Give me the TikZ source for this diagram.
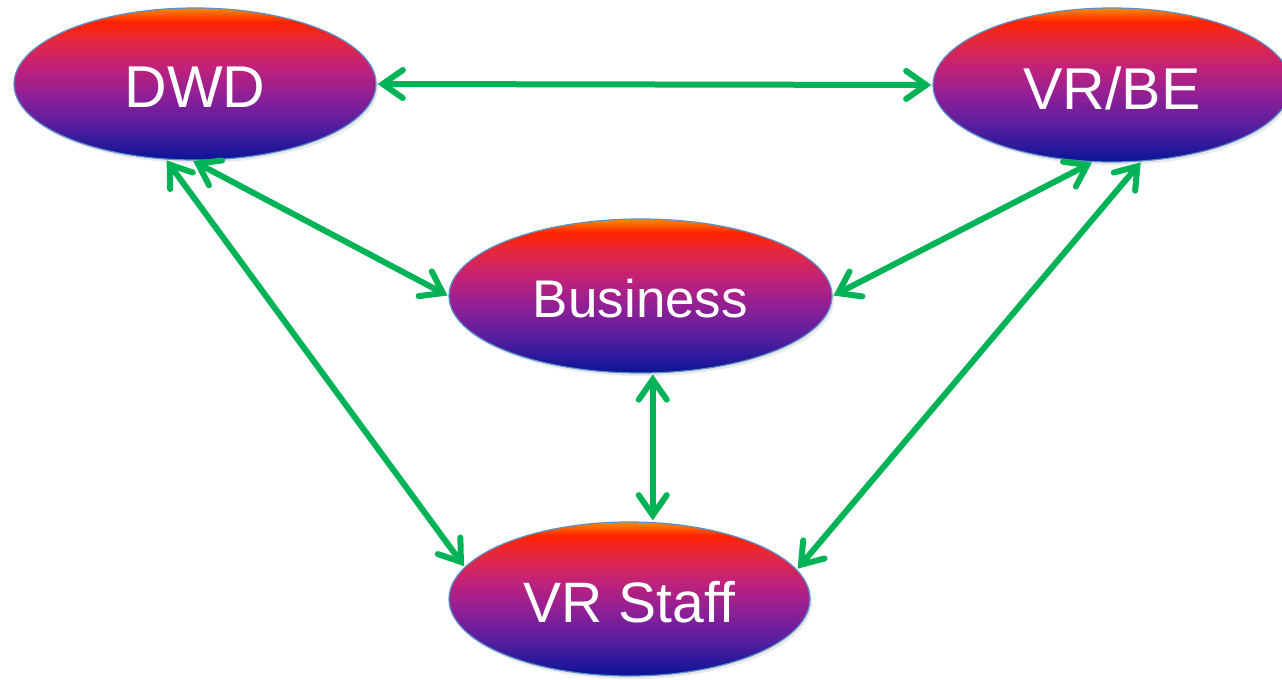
\documentclass[tikz,border=0pt]{standalone}
\usepackage{fontspec}
\setmainfont{Liberation Sans}[Ligatures=NoCommon]
\usetikzlibrary{shapes.geometric,arrows.meta,shadows}
\definecolor{sbot}{HTML}{0A1496}
\definecolor{sblu}{HTML}{5A1EA0}
\definecolor{spur}{HTML}{922095}
\definecolor{smag}{HTML}{C22278}
\definecolor{sred}{HTML}{E8283A}
\definecolor{sred2}{HTML}{FF2200}
\definecolor{stop}{HTML}{FF8A00}
\definecolor{edgeblue}{HTML}{5B8FCB}
\definecolor{arrgreen}{HTML}{00B356}
\pgfdeclareverticalshading{ovalshade}{100bp}{color(0bp)=(sbot); color(25bp)=(sbot); color(37bp)=(sblu); color(47bp)=(spur); color(56bp)=(smag); color(65bp)=(sred); color(70.5bp)=(sred2); color(75bp)=(stop); color(100bp)=(stop)}
\tikzset{
  oval/.style={ellipse, shading=ovalshade, draw=edgeblue, line width=1.2bp,
    inner sep=0pt, text=white,
    drop shadow={opacity=0.18, shadow xshift=2bp, shadow yshift=-3bp}},
  link/.style={draw=arrgreen, line width=6bp, line cap=round,
    {Straight Barb[length=20bp, width=28bp, line cap=round]}-{Straight Barb[length=20bp, width=28bp, line cap=round]},
    shorten <=1bp, shorten >=1bp}
}
\newcommand{\lowtext}[1]{\raisebox{-3bp}[\height][\depth]{#1}}
\begin{document}
\begin{tikzpicture}[x=1bp,y=-1bp]
\useasboundingbox (0,0) rectangle (1282,680);
\node[oval, minimum width=362bp, minimum height=152bp, font=\fontsize{59bp}{62bp}\selectfont] (DWD) at (195,84) {\lowtext{DWD}};
\node[oval, minimum width=358bp, minimum height=154bp, font=\fontsize{59bp}{62bp}\selectfont] (VRBE) at (1112,85) {\lowtext{VR/BE}};
\node[oval, minimum width=383bp, minimum height=154bp, font=\fontsize{53bp}{56bp}\selectfont] (Bus) at (640.5,296) {\lowtext{Business}};
\node[oval, minimum width=361bp, minimum height=154bp, font=\fontsize{57bp}{60bp}\selectfont] (Staff) at (629.5,599) {\lowtext{VR Staf{}f}};
\draw[link] (DWD.east) -- (VRBE.west);
\draw[link] (DWD.268) -- (Bus.west);
\draw[link] (DWD.249) -- (Staff.169);
\draw[link] (VRBE.256) -- (Bus.east);
\draw[link] (VRBE.291) -- (Staff.10);
\draw[link] (Bus.279) -- (Staff.north -| Bus.279);
\end{tikzpicture}
\end{document}
